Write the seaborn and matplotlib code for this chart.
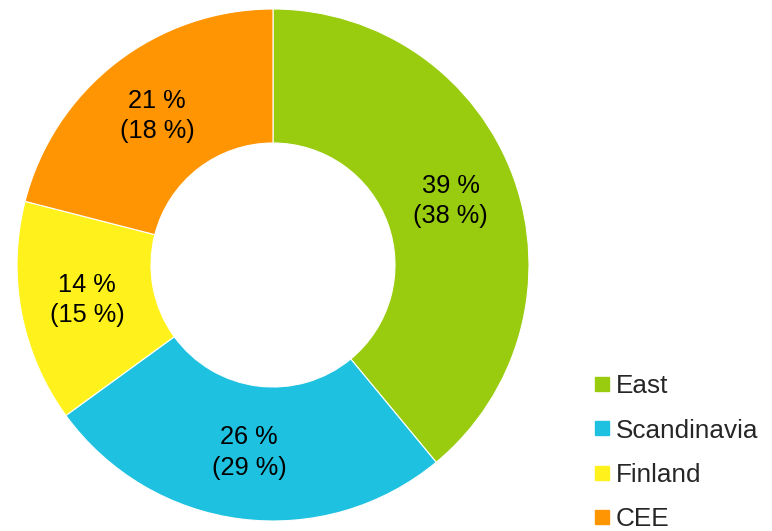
import matplotlib
matplotlib.use("Agg")
import matplotlib.pyplot as plt
import seaborn as sns
import numpy as np
from matplotlib.lines import Line2D

regions = ["East", "Scandinavia", "Finland", "CEE"]
share_now = [39, 26, 14, 21]
share_prev = [38, 29, 15, 18]
colors = ["#99CC0F", "#1EC2E0", "#FFF21C", "#FF9502"]

sns.set_theme(style="white")
plt.rcParams['font.family'] = ['Liberation Sans', 'DejaVu Sans']

W, H = 772, 531
fig = plt.figure(figsize=(W / 100, H / 100), dpi=100)
cx, cy, R = 273, 265, 256
ax = fig.add_axes([(cx - R) / W, (H - cy - R) / H, 2 * R / W, 2 * R / H])

inner = 122 / R
wedges, _ = ax.pie(share_now, colors=colors, startangle=90, counterclock=False,
                   radius=1, wedgeprops=dict(width=1 - inner, edgecolor="white", linewidth=0.8))
total = sum(share_now)
start = 90.0
rmid = (1 + inner) / 2
for v, p in zip(share_now, share_prev):
    ang = np.deg2rad(start - v / total * 360 / 2)
    start -= v / total * 360
    ax.text(rmid * np.cos(ang), rmid * np.sin(ang), f"{v} %\n({p} %)",
            ha="center", va="center", fontsize=18.3, linespacing=1.32, color="black")
ax.set_xlim(-1, 1)
ax.set_ylim(-1, 1)
ax.set_aspect("equal")

handles = [Line2D([0], [0], marker="s", linestyle="none", markersize=10,
                  markerfacecolor=c, markeredgecolor=c) for c in colors]
fig.legend(handles, regions, loc="lower left", bbox_to_anchor=(578 / W, -16 / H),
           frameon=False, fontsize=18.8, handlelength=0.6, handletextpad=0.25,
           labelspacing=0.78, borderpad=0.1)

fig.savefig("out.png", dpi=100)
